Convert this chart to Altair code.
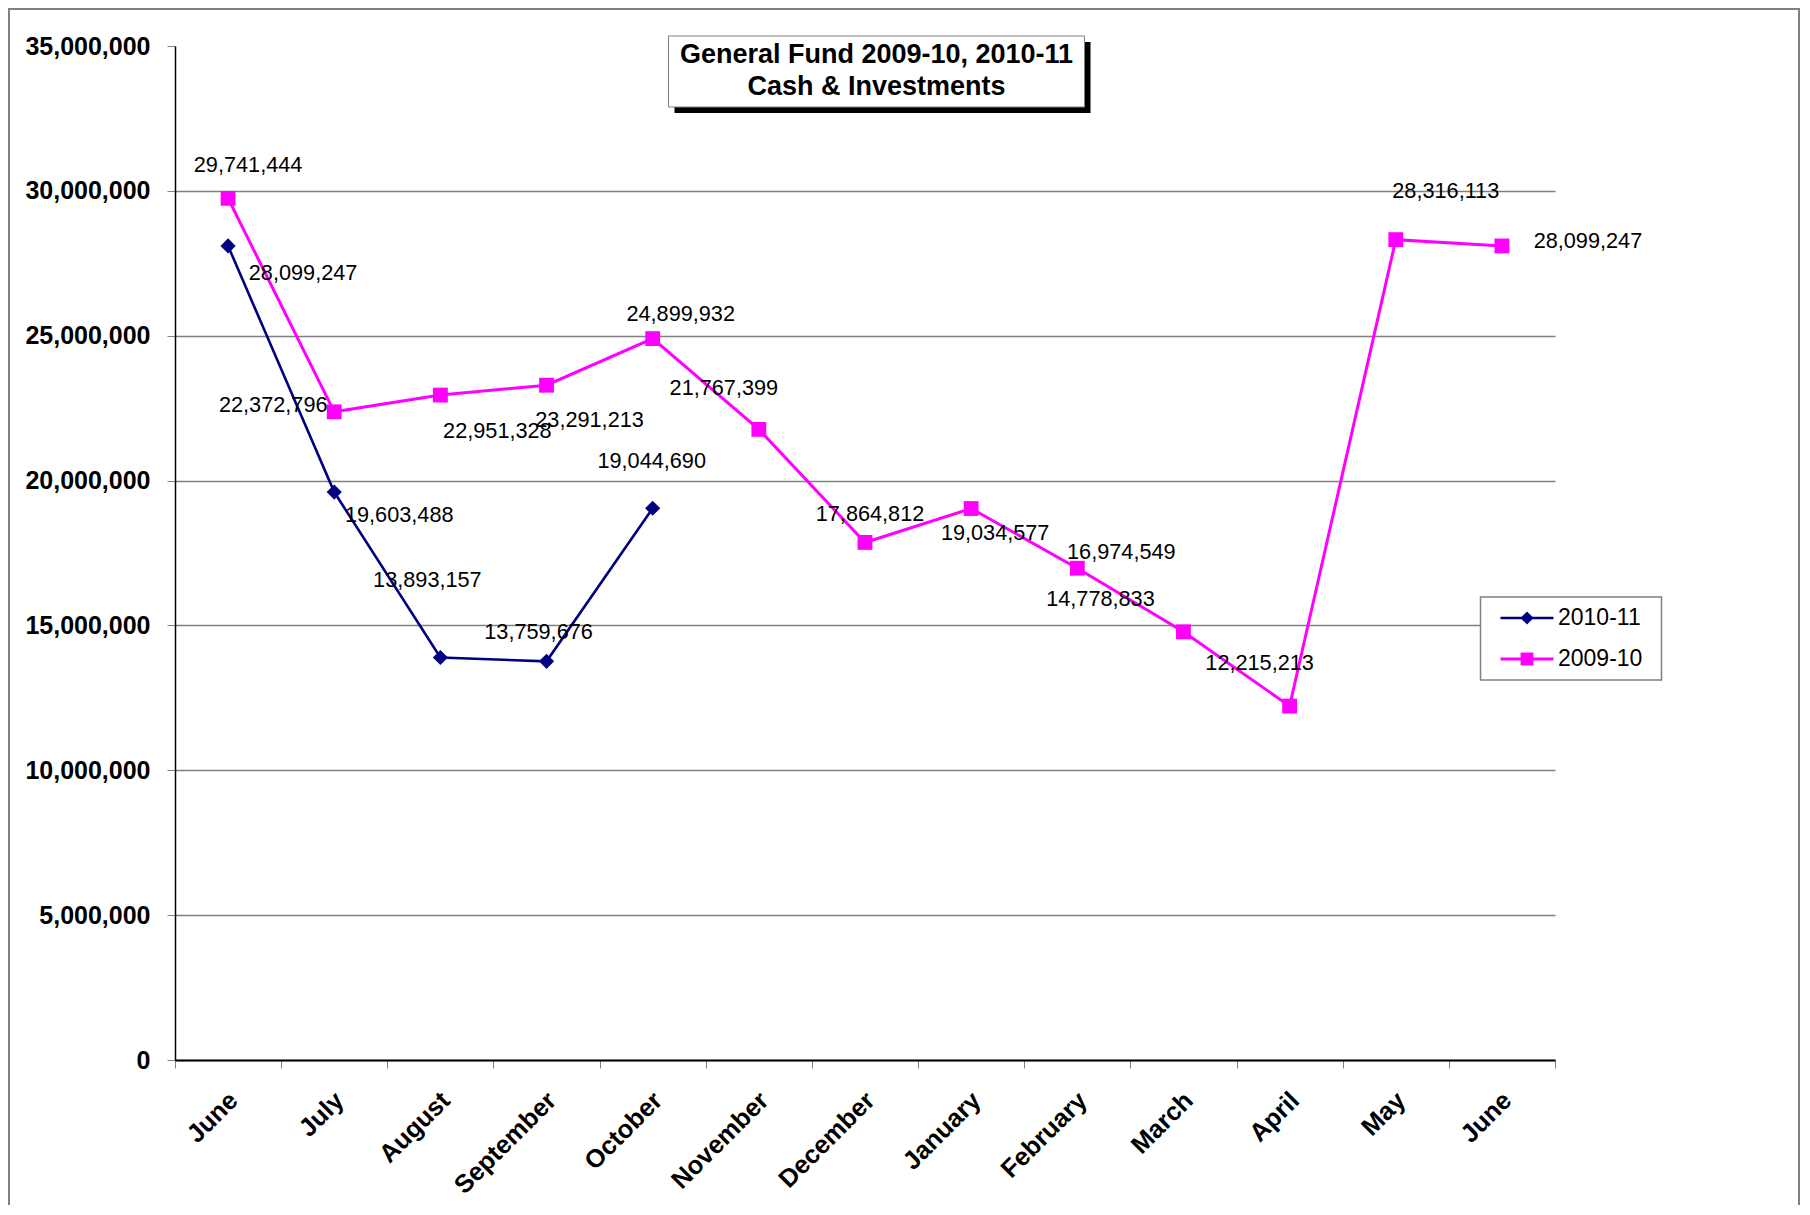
import json
import altair as alt
import pandas as pd

# ---------------- data ----------------
MONTHS = ["June", "July", "August", "September", "October", "November", "December",
          "January", "February", "March", "April", "May", "June"]
SERIES = ["2010-11", "2009-10"]
VALUES_2010_11 = [28099247, 19603488, 13893157, 13759676, 19044690]
VALUES_2009_10 = [29741444, 22372796, 22951328, 23291213, 24899932, 21767399, 17864812,
                  19034577, 16974549, 14778833, 12215213, 28316113, 28099247]
Y_TICKS = [0, 5000000, 10000000, 15000000, 20000000, 25000000, 30000000, 35000000]
TITLE_LINES = ["General Fund 2009-10, 2010-11", "Cash & Investments"]

# label offsets (pixels, label centre relative to its marker)
LABEL_OFF_2010_11 = [(75, 27), (65, 23), (-13, -77), (-8, -29), (-1, -47)]
LABEL_OFF_2009_10 = [(20, -33), (-61, -7), (57, 36), (43, 35), (28, -25), (-35, -41), (5, -28),
                     (24, 24), (44, -16), (-83, -33), (-30, -43), (50, -49), (86, -5)]

# ---------------- styles ----------------
COLORS = {"2010-11": "#000080", "2009-10": "#FF00FF"}
SHAPES = {"2010-11": "diamond", "2009-10": "square"}
SIZES = {"2010-11": 230, "2009-10": 220}
WIDTHS = {"2010-11": 2.6, "2009-10": 3}
FONT = "Liberation Sans"
W, H = 1380, 1014
PAD = {"left": 167, "top": 38, "right": 245, "bottom": 145}

rows = []
for s, vals, offs in [("2010-11", VALUES_2010_11, LABEL_OFF_2010_11),
                      ("2009-10", VALUES_2009_10, LABEL_OFF_2009_10)]:
    for i, v in enumerate(vals):
        rows.append({"series": s, "idx": i, "month": MONTHS[i], "value": v,
                     "label": f"{v:,}", "dx": offs[i][0], "dy": offs[i][1]})
df = pd.DataFrame(rows)

x_axis = alt.Axis(
    title=None, labelExpr=json.dumps(MONTHS) + "[datum.value]",
    labelAngle=315, labelAlign="right", labelBaseline="middle",
    labelFont=FONT, labelFontSize=25.5, labelFontWeight="bold", labelColor="black",
    labelPadding=28, labelOffset=5, labelOverlap=False,
    tickBand="extent", tickSize=8, tickColor="#808080", tickWidth=1,
    domainColor="black", domainWidth=2, grid=False,
)
y_axis = alt.Axis(
    title=None, values=Y_TICKS, format=",d",
    labelFont=FONT, labelFontSize=25, labelFontWeight="bold", labelColor="black",
    labelPadding=17, labelFlush=False, labelOverlap=False,
    tickSize=8, tickColor="#808080", tickWidth=1,
    domainColor="black", domainWidth=1.5,
    grid=True, gridColor="#808080", gridWidth=1.5,
    gridOpacity=alt.condition("datum.value >= 35000000", alt.value(0), alt.value(1)),
)
X = alt.X("idx:O", scale=alt.Scale(type="band", paddingInner=0, paddingOuter=0,
                                    domain=list(range(len(MONTHS)))), axis=x_axis)
Y = alt.Y("value:Q", scale=alt.Scale(domain=[0, 35000000], nice=False), axis=y_axis)

one = pd.DataFrame({"a": [0]})
layers = []

# outer frame (bottom edge lies beyond the page, as in the original)
layers.append(alt.Chart(one).mark_rect(fill=None, stroke="#808080", strokeWidth=2).encode(
    x=alt.value(-PAD["left"] + 1), x2=alt.value(W + PAD["right"] - 1),
    y=alt.value(-PAD["top"] + 1), y2=alt.value(H + PAD["bottom"] + 40)))

# data lines and markers
for s in SERIES:
    d = df[df.series == s]
    layers.append(alt.Chart(d).mark_line(color=COLORS[s], strokeWidth=WIDTHS[s]).encode(x=X, y=Y))
for s in SERIES:
    d = df[df.series == s]
    layers.append(alt.Chart(d).mark_point(filled=True, shape=SHAPES[s], size=SIZES[s],
                                          color=COLORS[s], opacity=1).encode(x=X, y=Y))

# value labels
for _, r in df.iterrows():
    d = df[(df.series == r.series) & (df.idx == r.idx)]
    layers.append(alt.Chart(d).mark_text(font=FONT, fontSize=21.7, color="black",
                                         align="center", baseline="middle",
                                         dx=int(r.dx), dy=int(r.dy)).encode(x=X, y=Y, text="label:N"))

# title box
TB = (493.5, 909.5, -10, 61)
layers.append(alt.Chart(one).mark_rect(fill="black").encode(
    x=alt.value(TB[0] + 6), x2=alt.value(TB[1] + 6), y=alt.value(TB[2] + 6), y2=alt.value(TB[3] + 6)))
layers.append(alt.Chart(one).mark_rect(fill="white", stroke="#808080", strokeWidth=1).encode(
    x=alt.value(TB[0]), x2=alt.value(TB[1]), y=alt.value(TB[2]), y2=alt.value(TB[3])))
for k, t in enumerate(TITLE_LINES):
    layers.append(alt.Chart(one).mark_text(text=t, font=FONT, fontSize=27, fontWeight="bold",
                                           color="black", align="center", baseline="middle").encode(
        x=alt.value((TB[0] + TB[1]) / 2), y=alt.value(9 + 32 * k)))

# legend
LB = (1305.5, 1486.5, 551, 634)
layers.append(alt.Chart(one).mark_rect(fill="white", stroke="#808080", strokeWidth=1.5).encode(
    x=alt.value(LB[0]), x2=alt.value(LB[1]), y=alt.value(LB[2]), y2=alt.value(LB[3])))
for k, s in enumerate(SERIES):
    yy = 572 + 41 * k
    layers.append(alt.Chart(one).mark_rule(color=COLORS[s], strokeWidth=WIDTHS[s]).encode(
        x=alt.value(1325.5), x2=alt.value(1378.5), y=alt.value(yy)))
    layers.append(alt.Chart(one).mark_point(filled=True, shape=SHAPES[s], size=SIZES[s] * 0.75,
                                            color=COLORS[s], opacity=1).encode(
        x=alt.value(1352), y=alt.value(yy)))
    layers.append(alt.Chart(one).mark_text(text=s, font=FONT, fontSize=23, color="black",
                                           align="left", baseline="middle").encode(
        x=alt.value(1383), y=alt.value(yy)))

chart = alt.layer(*layers).properties(
    width=W, height=H,
    autosize=alt.AutoSizeParams(type="none"),
    padding=PAD,
    background="white",
).configure_view(stroke=None)

chart.save("out.html", embed_options={"renderer": "svg", "actions": False})
